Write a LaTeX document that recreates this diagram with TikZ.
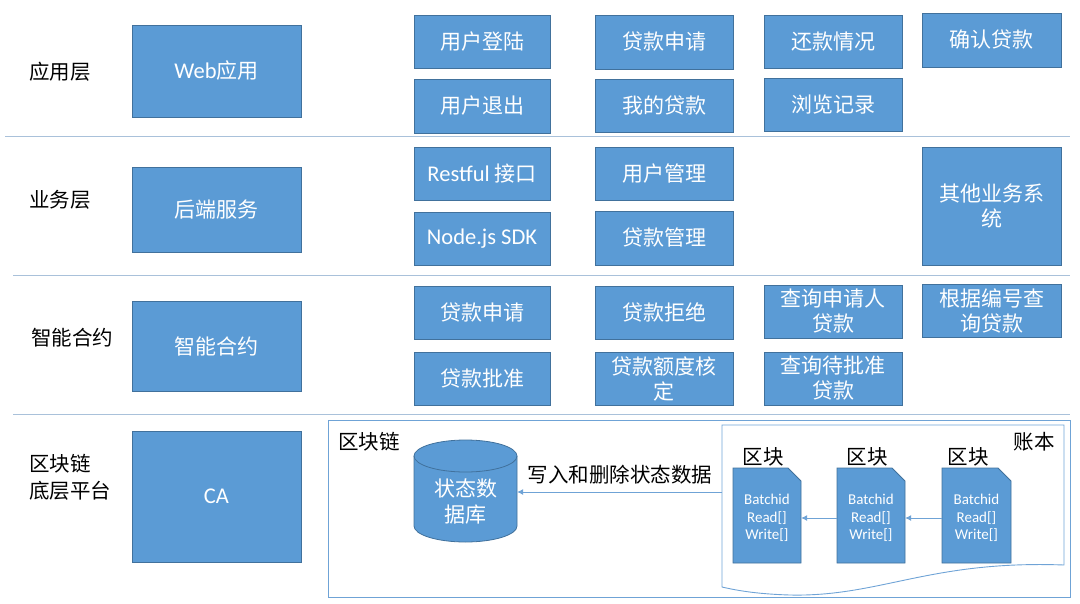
\documentclass[tikz,border=0pt]{standalone}
\usepackage{fontspec}
\setmainfont{Noto Sans CJK SC}
\newfontfamily\latf{Carlito}
\usetikzlibrary{arrows.meta,calc}
\definecolor{boxfill}{HTML}{5B9BD5}
\definecolor{boxline}{HTML}{41719C}
\definecolor{sepline}{HTML}{A9C1DA}
\definecolor{lightline}{HTML}{6FA3D6}
\tikzset{
  box/.style={draw=boxline,fill=boxfill,line width=0.8pt,text=white,inner sep=1pt,align=center,
    font=\fontsize{21}{25}\selectfont},
  lbl/.style={text=black,font=\fontsize{20.5}{27}\selectfont,inner sep=0pt},
  sep/.style={draw=sepline,line width=1pt},
  frame/.style={draw=lightline,line width=0.9pt},
  arr/.style={draw=lightline,line width=0.8pt,-{Latex[length=6pt,width=6pt]}},
  blk/.style={draw=boxline,fill=boxfill,line width=0.8pt},
  blktxt/.style={text=white,align=center,inner sep=0pt,font=\latf\fontsize{15}{17.5}\selectfont}
}
\newcommand\lt[1]{{\latf\fontsize{22.5}{25}\selectfont #1}}
\newcommand\bx[6]{\node[box,minimum width={(#4-#2)*1pt},minimum height={(#5-#3)*1pt}] (#1) at ({(#2+#4)/2},{(#3+#5)/2}) {#6};}
\newcommand\docblk[3]{%
  \path[blk] (#1,468) -- (#2-13,468) -- (#2,481) -- (#2,563) -- (#1,563) -- cycle;
  \node[blktxt,minimum width={(#2-#1)*1pt},minimum height=95pt] (#3) at ({(#1+#2)/2},518) {Batchid\\Read[]\\Write[]};}
\begin{document}
\begin{tikzpicture}[x=1pt,y=-1pt]
\useasboundingbox (0,0) rectangle (1080,603);
% separators
\draw[sep] (5,136) -- (1070,136);
\draw[sep] (13,275) -- (1070,275);
\draw[sep] (13,414) -- (1070,414);
% left labels
\node[lbl] (l1) at (60,72) {应用层};
\node[lbl] (l2) at (60,200) {业务层};
\node[lbl] (l3) at (72,338) {智能合约};
\node[lbl,anchor=west,align=left] (l4) at (29,477) {区块链\\底层平台};
% left boxes
\bx{web}{132}{25}{301}{117}{\lt{Web}应用}
\bx{hd}{132}{167}{301}{252}{后端服务}
\bx{zn}{132}{301}{301}{391}{智能合约}
\bx{ca}{132}{431}{301}{562}{\lt{CA}}
% application layer
\bx{a11}{414}{15}{550}{68}{用户登陆}
\bx{a12}{595}{15}{733}{69}{贷款申请}
\bx{a13}{764}{15}{902}{68}{还款情况}
\bx{a14}{922}{13}{1061}{67}{确认贷款}
\bx{a21}{414}{79}{550}{133}{用户退出}
\bx{a22}{595}{79}{733}{132}{我的贷款}
\bx{a23}{764}{78}{902}{131}{浏览记录}
% business layer
\bx{b11}{414}{147}{550}{200}{\lt{Restful} 接口}
\bx{b21}{414}{212}{550}{265}{\lt{Node.js SDK}}
\bx{b12}{595}{147}{733}{200}{用户管理}
\bx{b22}{595}{211}{733}{265}{贷款管理}
\bx{b14}{922}{147}{1061}{265}{其他业务系\\统}
% smart contract layer
\bx{c11}{414}{286}{550}{339}{贷款申请}
\bx{c12}{595}{286}{733}{339}{贷款拒绝}
\bx{c13}{764}{285}{902}{338}{查询申请人\\贷款}
\bx{c14}{922}{284}{1061}{337}{根据编号查\\询贷款}
\bx{c21}{414}{352}{550}{405}{贷款批准}
\bx{c22}{595}{352}{733}{405}{贷款额度核\\定}
\bx{c23}{764}{352}{902}{405}{查询待批准\\贷款}
% blockchain frame
\draw[frame] (328,420) rectangle (1070,597);
\node[lbl] (bcl) at (369,442) {区块链};
% ledger document shape
\draw[frame] (722,425) -- (1064,425) -- (1064,565)
  .. controls (930,560) and (880,597) .. (790,595)
  .. controls (755,594) and (735,590) .. (722,587) -- cycle;
\node[lbl] (ledl) at (1034,442) {账本};
\coordinate (ledL) at (722,492);
% database cylinder
\path[blk] (414,456) -- (414,526) arc[start angle=180,end angle=0,x radius=51.5,y radius=16]
  -- (517,456) arc[start angle=0,end angle=-180,x radius=51.5,y radius=16] -- cycle;
\draw[draw=boxline,line width=0.8pt] (414,456) arc[start angle=180,end angle=0,x radius=51.5,y radius=16];
\node[text=white,align=center,inner sep=0pt,minimum width=103pt,font=\fontsize{21}{26}\selectfont] (db) at (465.5,502) {状态数\\据库};
% blocks
\docblk{733}{801}{k1}
\docblk{837}{905}{k2}
\docblk{942}{1011}{k3}
\node[lbl] (k1l) at (763,457) {区块};
\node[lbl] (k2l) at (867,457) {区块};
\node[lbl] (k3l) at (968,457) {区块};
% arrows
\draw[arr] (ledL) -- (ledL -| db.east);
\node[lbl] (wl) at (620,475) {写入和删除状态数据};
\draw[arr] (k2.west) -- (k1.east);
\draw[arr] (k3.west) -- (k2.east);
\end{tikzpicture}
\end{document}
